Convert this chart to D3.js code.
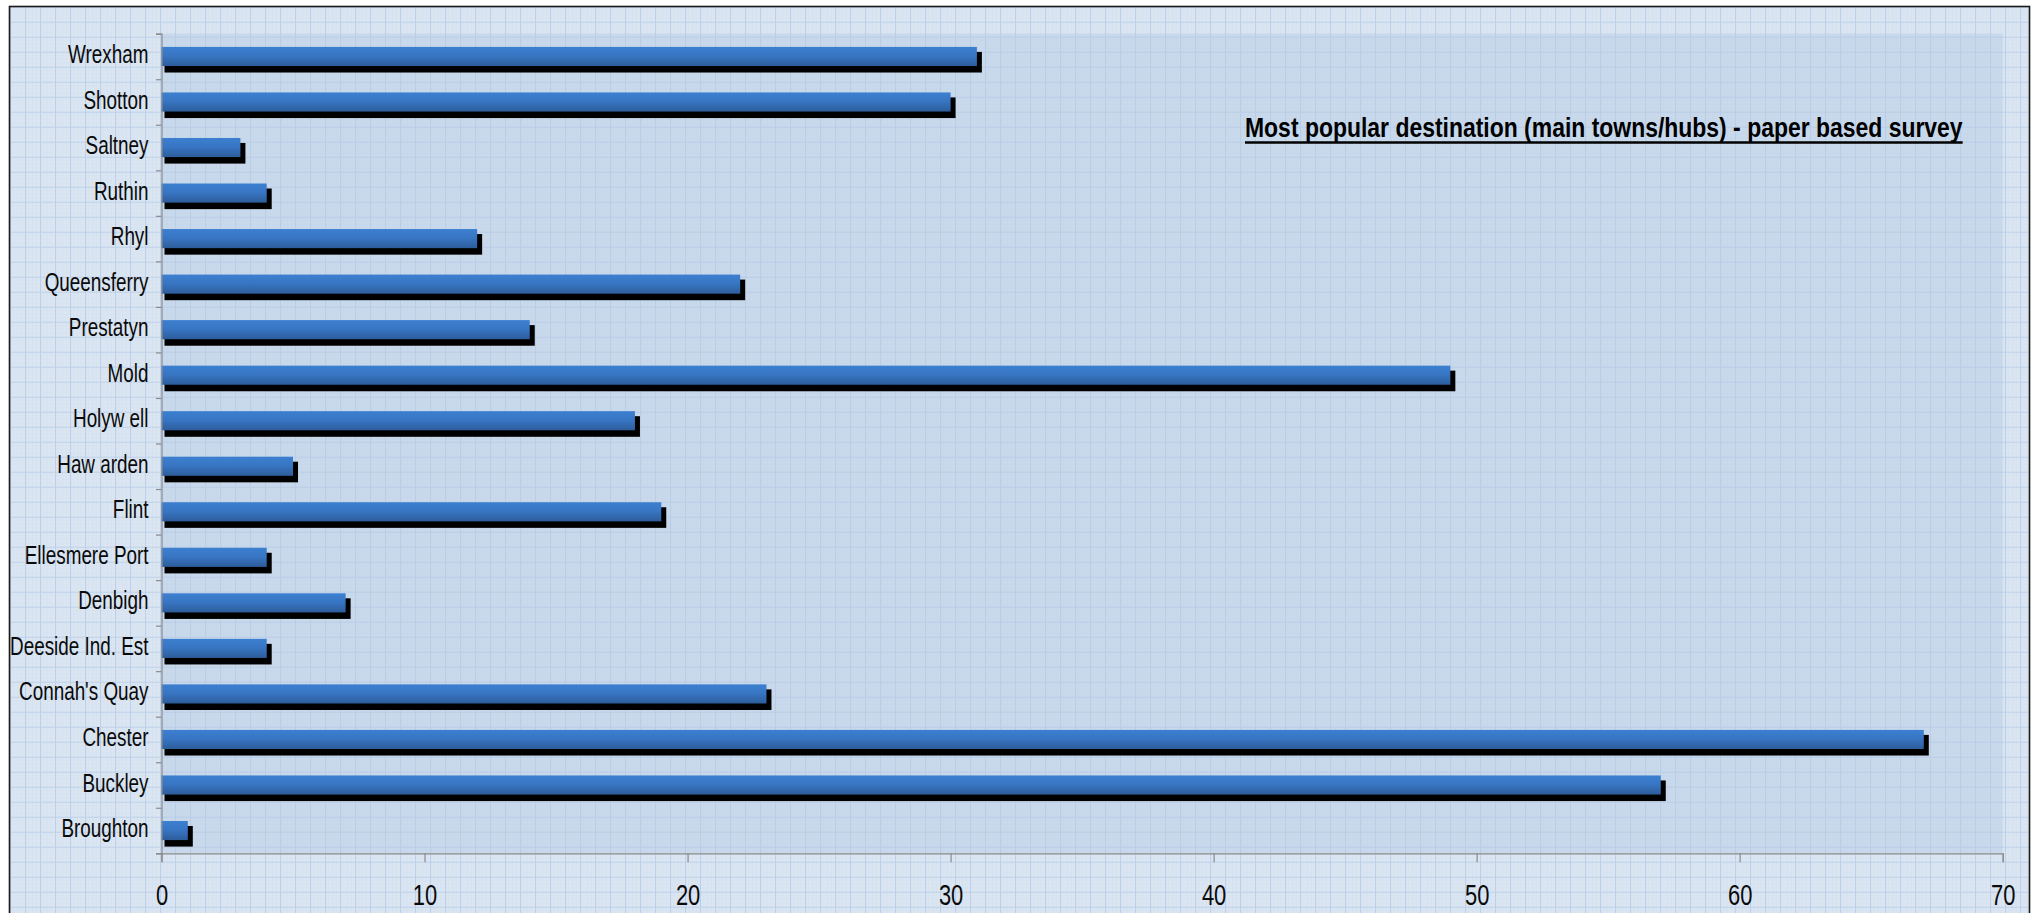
<!DOCTYPE html>
<html>
<head>
<meta charset="utf-8">
<script src="https://cdn.jsdelivr.net/npm/d3@7"></script>
<style>
  html, body { margin: 0; padding: 0; background: #ffffff; }
  svg { display: block; }
  text { font-family: "Liberation Sans", Arial, sans-serif; }
</style>
</head>
<body>
<svg id="chart" width="2040" height="913"></svg>
<script>
// ---- data ----
const categories = ["Wrexham", "Shotton", "Saltney", "Ruthin", "Rhyl", "Queensferry", "Prestatyn", "Mold",
  "Holyw ell", "Haw arden", "Flint", "Ellesmere Port", "Denbigh", "Deeside Ind. Est", "Connah's Quay",
  "Chester", "Buckley", "Broughton"];
const values = [31, 30, 3, 4, 12, 22, 14, 49, 18, 5, 19, 4, 7, 4, 23, 67, 57, 1];
const xTickValues = [0, 10, 20, 30, 40, 50, 60, 70];
const chartTitle = "Most popular destination (main towns/hubs) - paper based survey";

// ---- layout ----
const W = 2040, H = 913;
const plot = { left: 161.5, right: 2002.7, top: 33.7, bottom: 853.3 };
const NARROW = 0.755;   // horizontal condensing of the original's narrow font

const svg = d3.select("#chart");
const defs = svg.append("defs");

// graph-paper pattern
const pat = defs.append("pattern").attr("id", "grid").attr("patternUnits", "userSpaceOnUse")
  .attr("width", 15).attr("height", 15).attr("x", 10).attr("y", 6.7);
[3.75, 7.5, 11.25].forEach(o => {
  pat.append("line").attr("x1", o).attr("x2", o).attr("y1", 0).attr("y2", 15).attr("stroke", "#d3dfef").attr("stroke-width", 0.5);
  pat.append("line").attr("y1", o).attr("y2", o).attr("x1", 0).attr("x2", 15).attr("stroke", "#d3dfef").attr("stroke-width", 0.5);
});
pat.append("line").attr("x1", 0.5).attr("x2", 0.5).attr("y1", 0).attr("y2", 15).attr("stroke", "#bed0e9").attr("stroke-width", 1.2);
pat.append("line").attr("y1", 0.5).attr("y2", 0.5).attr("x1", 0).attr("x2", 15).attr("stroke", "#bed0e9").attr("stroke-width", 1.2);

const grad = defs.append("linearGradient").attr("id", "barGrad").attr("x1", 0).attr("x2", 0).attr("y1", 0).attr("y2", 1);
grad.append("stop").attr("offset", "0%").attr("stop-color", "#3c7fd0");
grad.append("stop").attr("offset", "45%").attr("stop-color", "#3876c4");
grad.append("stop").attr("offset", "100%").attr("stop-color", "#2d5d9b");

// background
svg.append("rect").attr("x", 0).attr("y", 0).attr("width", W).attr("height", H).attr("fill", "#ffffff");
svg.append("rect").attr("x", 9.5).attr("y", 6.5).attr("width", 2020).attr("height", 920).attr("fill", "#dbe6f2");
svg.append("rect").attr("x", 9.5).attr("y", 6.5).attr("width", 2020).attr("height", 920).attr("fill", "url(#grid)");

// plot area
svg.append("rect").attr("x", plot.left).attr("y", plot.top)
  .attr("width", plot.right - plot.left).attr("height", plot.bottom - plot.top)
  .attr("fill", "#b4c9e4").attr("opacity", 0.45);

// scales
const x = d3.scaleLinear().domain([0, 70]).range([plot.left, plot.right]);
const y = d3.scaleBand().domain(categories).range([plot.top, plot.bottom]).padding(0);
const barH = y.bandwidth() * 0.42;

const rows = categories.map((c, i) => ({ c, v: values[i] }));

// shadows
svg.append("g").selectAll("rect").data(rows).join("rect")
  .attr("x", d => x(0) + 3)
  .attr("y", d => y(d.c) + (y.bandwidth() - barH) / 2 + 5)
  .attr("width", d => x(d.v) - x(0) + 2)
  .attr("height", barH + 1.5)
  .attr("fill", "#000000");

// bars
svg.append("g").selectAll("rect").data(rows).join("rect")
  .attr("x", x(0))
  .attr("y", d => y(d.c) + (y.bandwidth() - barH) / 2)
  .attr("width", d => x(d.v) - x(0))
  .attr("height", barH)
  .attr("fill", "url(#barGrad)");

// y axis: boundary ticks
const yIdx = d3.scaleLinear().domain([0, categories.length]).range([plot.top, plot.bottom]);
const yAxisG = svg.append("g").attr("transform", `translate(${plot.left},0)`)
  .call(d3.axisLeft(yIdx).tickValues(d3.range(categories.length + 1)).tickSize(5.5).tickFormat(""));
yAxisG.select(".domain").attr("stroke", "#8a8a8a").attr("stroke-width", 1.2);
yAxisG.selectAll(".tick line").attr("stroke", "#8a8a8a").attr("stroke-width", 1.2);

// y labels
const yLab = svg.append("g").attr("transform", `translate(${plot.left},0)`)
  .call(d3.axisLeft(y).tickSize(0).tickPadding(13));
yLab.select(".domain").remove();
yLab.selectAll(".tick text")
  .attr("font-family", null)
  .attr("font-size", 25)
  .attr("fill", "#0a0a0a")
  .attr("x", 0)
  .attr("dy", "0.26em")
  .attr("transform", `translate(-13,0) scale(${NARROW},1)`);

// x axis
const xAxisG = svg.append("g").attr("transform", `translate(0,${plot.bottom})`)
  .call(d3.axisBottom(x).tickValues(xTickValues).tickSize(9).tickPadding(0).tickFormat(d3.format("d")));
xAxisG.select(".domain").attr("stroke", "#8a8a8a").attr("stroke-width", 1.2);
xAxisG.selectAll(".tick line").attr("stroke", "#8a8a8a").attr("stroke-width", 1.2);
xAxisG.selectAll(".tick text")
  .attr("font-family", null)
  .attr("font-size", 29)
  .attr("fill", "#0a0a0a")
  .attr("y", 0)
  .attr("dy", 0)
  .attr("transform", `translate(0,${905 - plot.bottom}) scale(${NARROW},1)`);

// title
const TITLE_SX = 0.85;
const title = svg.append("text")
  .attr("x", 0).attr("y", 0)
  .attr("transform", `translate(1245,136.5) scale(${TITLE_SX},1)`)
  .attr("font-size", 27).attr("font-weight", "bold")
  .attr("fill", "#000000")
  .text(chartTitle);
const tLen = title.node().getComputedTextLength() * TITLE_SX;
svg.append("line").attr("x1", 1245).attr("x2", 1245 + tLen)
  .attr("y1", 142.5).attr("y2", 142.5).attr("stroke", "#000000").attr("stroke-width", 2.6);

// outer border
svg.append("rect").attr("x", 9.5).attr("y", 6.5).attr("width", 2020).attr("height", 920)
  .attr("fill", "none").attr("stroke", "#1a1a1a").attr("stroke-width", 1.6);
</script>
</body>
</html>
